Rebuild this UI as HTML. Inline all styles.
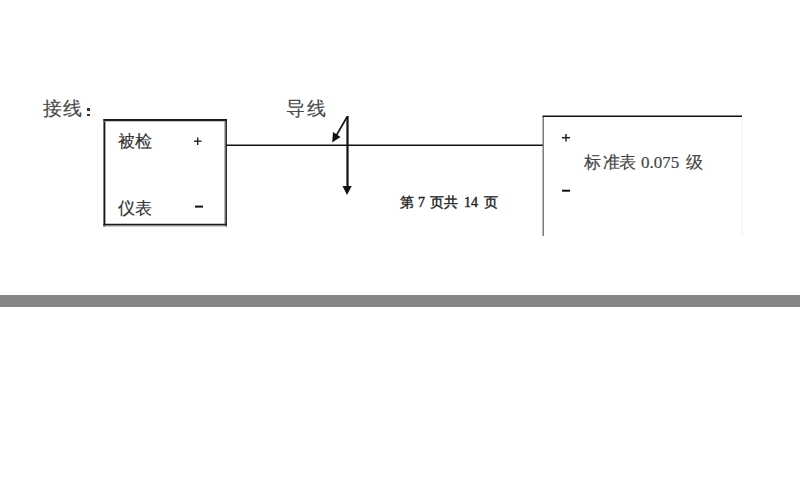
<!DOCTYPE html>
<html><head><meta charset="utf-8">
<style>
html,body{margin:0;padding:0;width:800px;height:500px;background:#fff;overflow:hidden;}
body{position:relative;font-family:"Liberation Serif",serif;color:#333;}
.t{position:absolute;white-space:nowrap;line-height:1;}
.bar{position:absolute;left:0;top:295.3px;width:800px;height:12px;background:#868686;}
.p{font-size:14px;color:#222;top:196px;-webkit-text-stroke:0.4px #222;}
.s{font-size:17px;color:#444;top:154px;-webkit-text-stroke:0.15px #444;}
</style></head><body>
<div class="t" style="left:43px;top:99px;font-size:19px;color:#4a4a4a;-webkit-text-stroke:0.15px #4a4a4a;">接</div>
<div class="t" style="left:63px;top:99px;font-size:19px;color:#4a4a4a;-webkit-text-stroke:0.15px #4a4a4a;">线</div>
<div style="position:absolute;left:87px;top:108px;width:3px;height:3px;background:#333;"></div>
<div style="position:absolute;left:87px;top:113.5px;width:3px;height:2.7px;background:#333;"></div>
<div class="t" style="left:286px;top:99px;font-size:19px;color:#4a4a4a;-webkit-text-stroke:0.15px #4a4a4a;">导</div>
<div class="t" style="left:306.5px;top:99px;font-size:19px;color:#4a4a4a;-webkit-text-stroke:0.15px #4a4a4a;">线</div>
<svg width="800" height="500" style="position:absolute;left:0;top:0;">
  <line x1="104.4" y1="119" x2="104.4" y2="226.5" stroke="#151515" stroke-width="1.9"/>
  <line x1="103.5" y1="120.1" x2="227" y2="120.1" stroke="#1a1a1a" stroke-width="2"/>
  <line x1="103.5" y1="121.4" x2="227" y2="121.4" stroke="#999" stroke-width="0.7"/>
  <line x1="226.1" y1="119" x2="226.1" y2="226.5" stroke="#222" stroke-width="1.7"/>
  <line x1="224.8" y1="121" x2="224.8" y2="224" stroke="#999" stroke-width="1"/>
  <line x1="103.5" y1="224.6" x2="227" y2="224.6" stroke="#1a1a1a" stroke-width="1.6"/>
  <line x1="103.5" y1="225.9" x2="227" y2="225.9" stroke="#888" stroke-width="1"/>
</svg>
<div class="t" style="left:118px;top:133px;font-size:17px;color:#333;-webkit-text-stroke:0.15px #333;">被检</div>
<div class="t" style="left:118px;top:200px;font-size:17px;color:#333;-webkit-text-stroke:0.15px #333;">仪表</div>
<div class="t p" style="left:400px;">第</div>
<div class="t p" style="left:418px;">7</div>
<div class="t p" style="left:430px;">页</div>
<div class="t p" style="left:444px;">共</div>
<div class="t p" style="left:464px;">14</div>
<div class="t p" style="left:484px;">页</div>
<div class="t s" style="left:584px;">标</div>
<div class="t s" style="left:603px;">准</div>
<div class="t s" style="left:619px;">表</div>
<div class="t s" style="left:641px;">0.075</div>
<div class="t s" style="left:686px;">级</div>
<svg width="800" height="500" style="position:absolute;left:0;top:0;">
  <line x1="226" y1="145.2" x2="543" y2="145.2" stroke="#111" stroke-width="1.4"/>
  <line x1="543.2" y1="116" x2="543.2" y2="236" stroke="#666" stroke-width="1.3"/>
  <line x1="542.6" y1="116.2" x2="742" y2="116.2" stroke="#111" stroke-width="1.5"/>
  <line x1="742" y1="117" x2="742" y2="236" stroke="#f0f0f0" stroke-width="1"/>
  <line x1="347.5" y1="116" x2="347.5" y2="188" stroke="#111" stroke-width="2.2"/>
  <polygon points="342.5,186 351.7,186 347,195" fill="#111"/>
  <line x1="347" y1="117" x2="336" y2="136" stroke="#111" stroke-width="1.6"/>
  <polygon points="332.2,142.5 333,132 340.5,137" fill="#111"/>
  <line x1="194" y1="141.2" x2="201.5" y2="141.2" stroke="#222" stroke-width="1.4"/>
  <line x1="197.7" y1="137.5" x2="197.7" y2="145" stroke="#222" stroke-width="1.4"/>
  <line x1="195" y1="206.6" x2="203" y2="206.6" stroke="#111" stroke-width="2"/>
  <line x1="562" y1="137.7" x2="570" y2="137.7" stroke="#222" stroke-width="1.5"/>
  <line x1="566" y1="134" x2="566" y2="141.5" stroke="#222" stroke-width="1.5"/>
  <line x1="562" y1="190.7" x2="570" y2="190.7" stroke="#111" stroke-width="2"/>
</svg>
<div class="bar"></div>
</body></html>
